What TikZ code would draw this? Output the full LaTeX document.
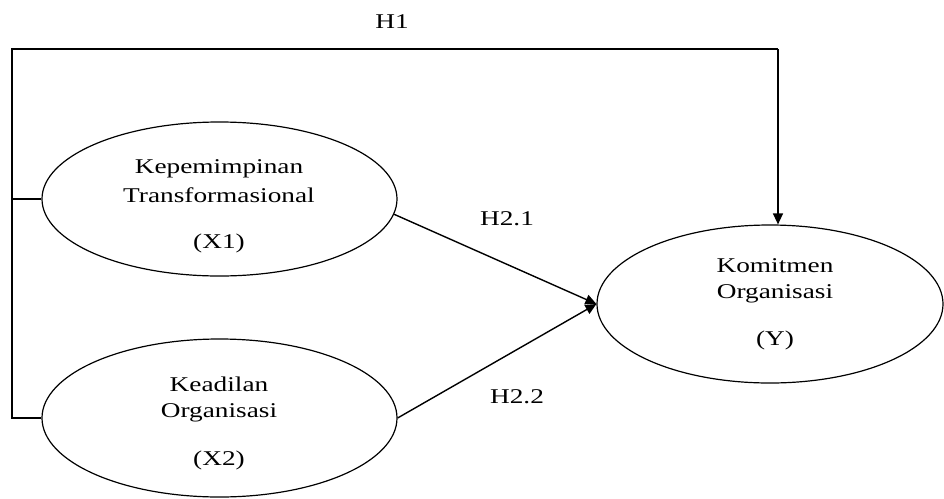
\documentclass[tikz,border=0pt]{standalone}
\usepackage{fontspec}
\setmainfont{Liberation Serif}[FakeStretch=1.3]
\usetikzlibrary{shapes.geometric,arrows.meta}
\begin{document}
\begin{tikzpicture}[x=1pt,y=-1pt,
  ell/.style={draw, ellipse, line width=1.2pt, inner sep=0pt},
  txt/.style={anchor=base, inner sep=0pt, font=\fontsize{21}{25}\selectfont},
  conn/.style={line width=1.4pt},
  arr/.style={line width=1.4pt, -{Triangle[length=11pt,width=10pt]}}]
\useasboundingbox (0,0) rectangle (944,498);
% ellipses
\node[ell, minimum width=355pt, minimum height=154pt] (x1) at (219.5,199) {};
\node[ell, minimum width=355pt, minimum height=158pt] (x2) at (219.5,418) {};
\node[ell, minimum width=346pt, minimum height=158pt] (y) at (770,304) {};
% texts
\node[txt] (x1a) at (219,173) {Kepemimpinan};
\node[txt] (x1b) at (219,202) {Transformasional};
\node[txt] (x1c) at (219,248) {(X1)};
\node[txt] (x2a) at (219,391) {Keadilan};
\node[txt] (x2b) at (219,417) {Organisasi};
\node[txt] (x2c) at (219,465) {(X2)};
\node[txt] (ya) at (775,272) {Komitmen};
\node[txt] (yb) at (775,298) {Organisasi};
\node[txt] (yc) at (775,345) {(Y)};
% labels
\node[txt] (h1) at (392,28) {H1};
\node[txt] (h21) at (507,225) {H2.1};
\node[txt] (h22) at (517,403) {H2.2};
% bracket and H1 path
\coordinate (tl) at (12,49);
\coordinate (tr) at (778,49);
\coordinate (bl) at (12,418);
\draw[conn] (x2.west) -- (bl) -- (tl) -- (tr);
\draw[conn] (x1.west) -- (x1.west -| tl);
\draw[arr] (tr) -- (tr |- y.north);
% H2 arrows
\draw[arr] (x1.-5.5) -- (y.west);
\draw[arr] (x2.east) -- (y.west);
\end{tikzpicture}
\end{document}
